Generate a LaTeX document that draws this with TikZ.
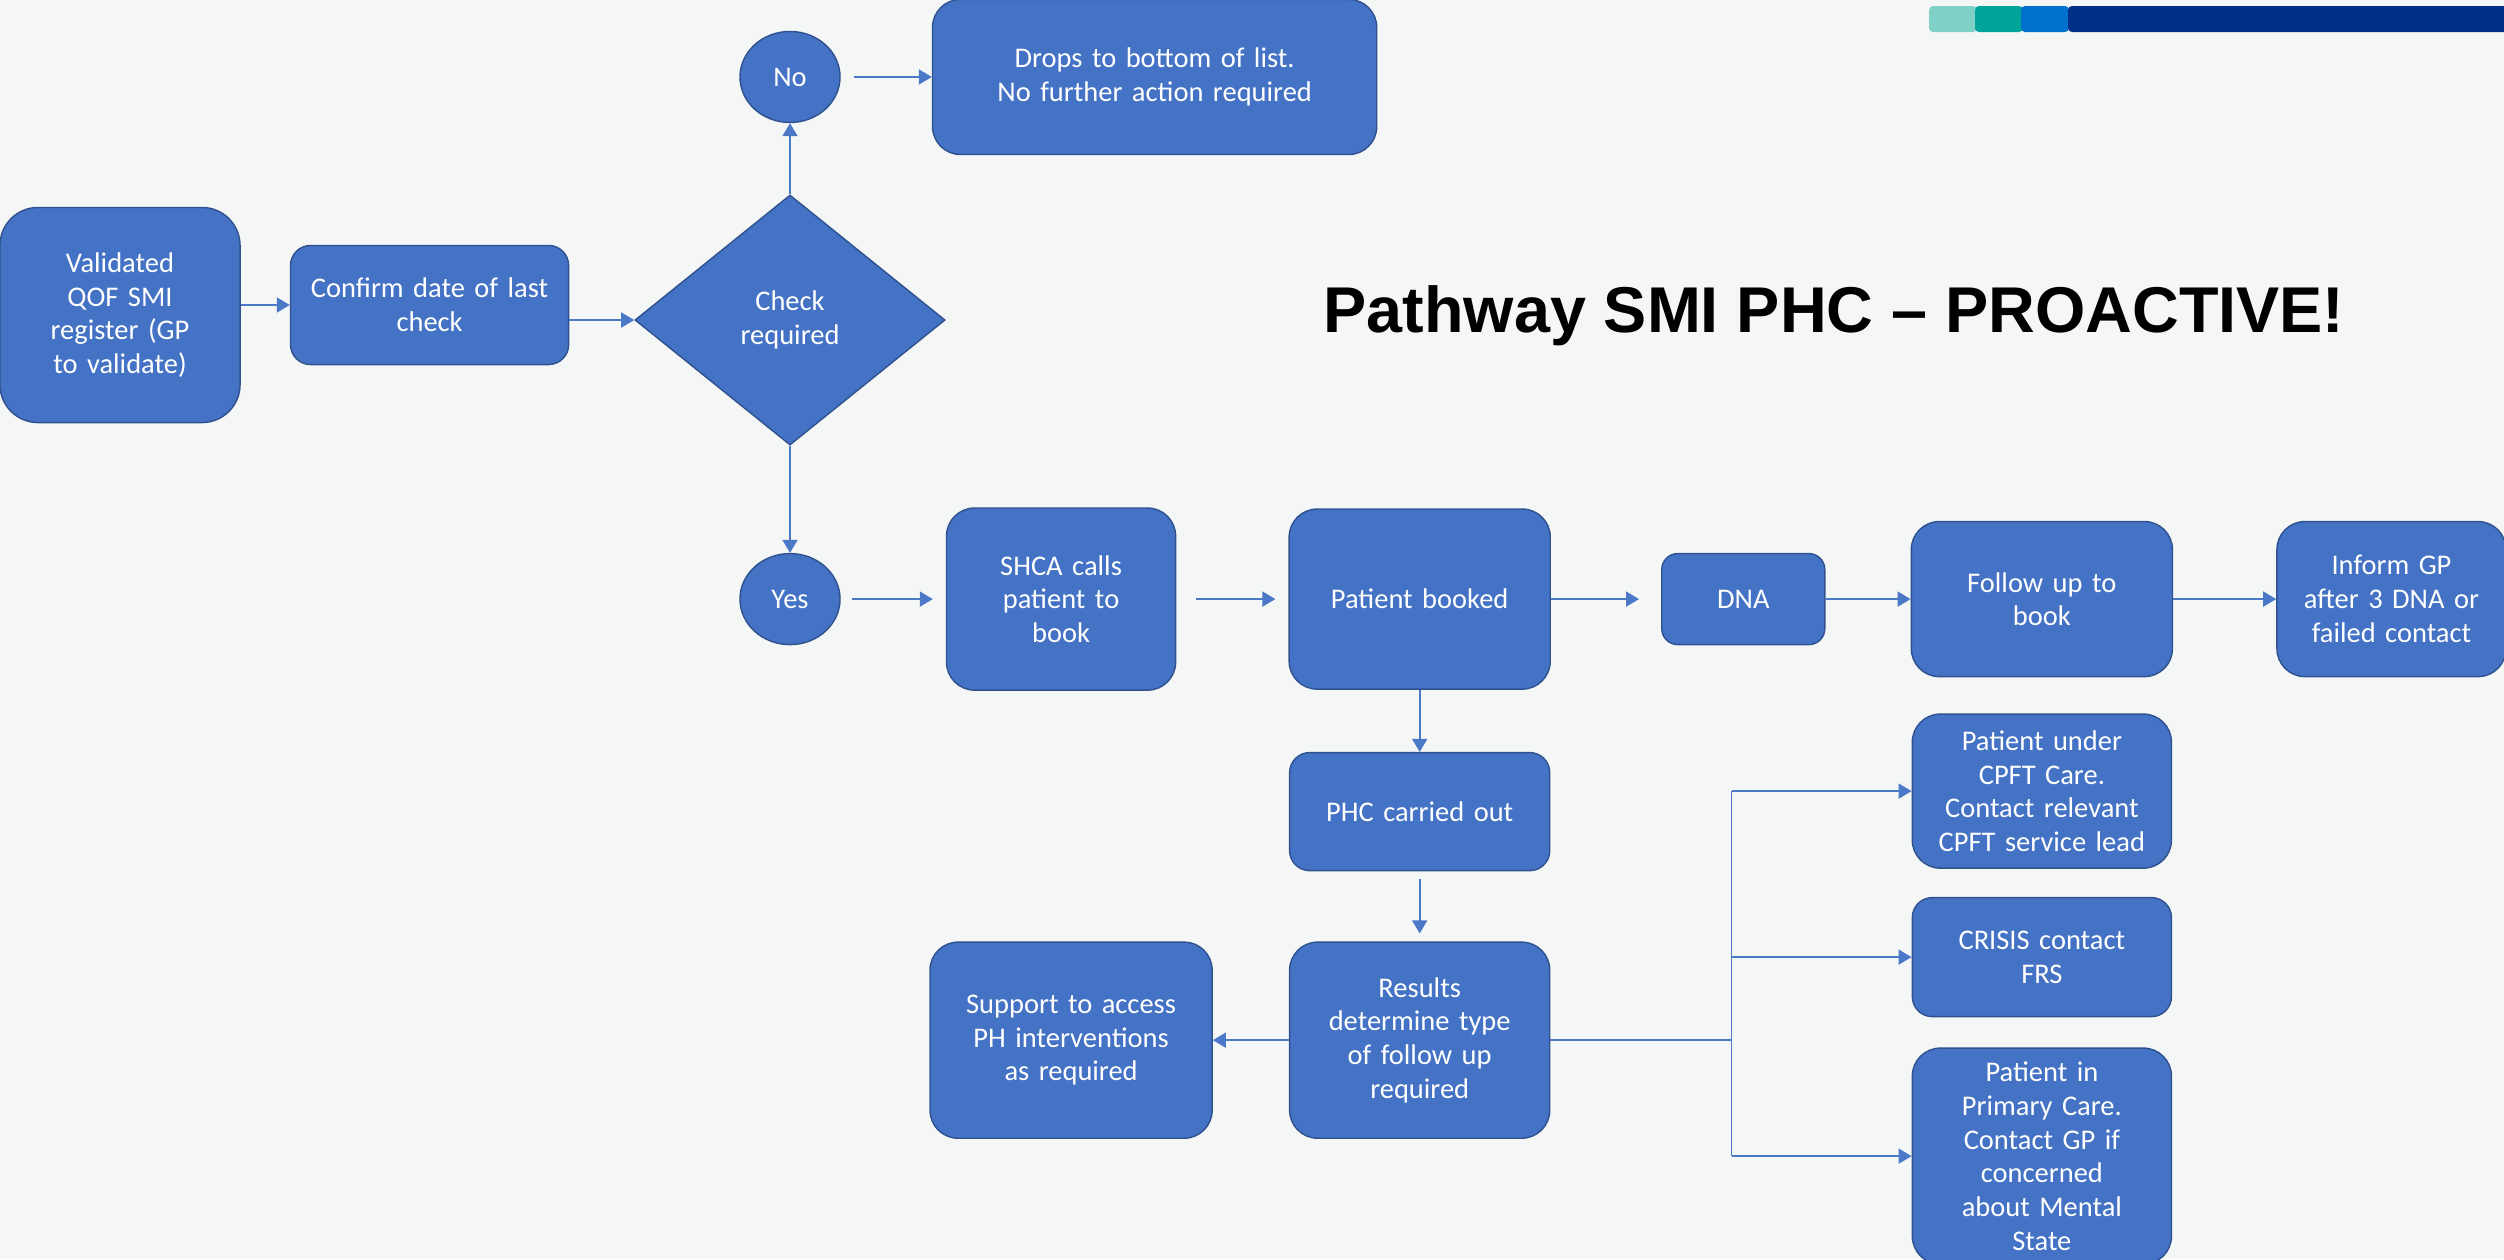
\documentclass[tikz,border=0pt]{standalone}
\usepackage{fontspec}
\setmainfont{Carlito}
\newfontfamily\titlefont{Liberation Sans}
\usetikzlibrary{shapes.geometric, arrows.meta, positioning, calc}
\definecolor{pagebg}{RGB}{245, 247, 247}
\definecolor{nhsblue}{RGB}{68, 114, 196}
\definecolor{nhsedge}{RGB}{47, 82, 143}
\definecolor{linkblue}{RGB}{76, 120, 200}
\definecolor{barlight}{RGB}{127, 208, 198}
\definecolor{barteal}{RGB}{0, 164, 153}
\definecolor{barmid}{RGB}{0, 114, 206}
\definecolor{barnavy}{RGB}{0, 48, 135}
\tikzset{
  sbox/.style={
    rectangle, rounded corners=0.28cm,
    draw=nhsedge, line width=0.4pt, fill=nhsblue,
    text=white, align=center, inner sep=0pt,
    font=\fontsize{8.1}{9.6}\selectfont
  },
  qbox/.style={
    diamond, draw=nhsedge, line width=0.4pt, fill=nhsblue,
    text=white, align=center, inner sep=0pt,
    minimum width=3.1cm, minimum height=2.5cm,
    font=\fontsize{8.1}{9.6}\selectfont
  },
  cbox/.style={
    ellipse, draw=nhsedge, line width=0.4pt, fill=nhsblue,
    text=white, inner sep=0pt,
    minimum width=1cm, minimum height=0.91cm,
    font=\fontsize{8.1}{9.6}\selectfont
  },
  arr/.style={-{Triangle[length=0.13cm, width=0.15cm]}, line width=0.5pt, color=linkblue},
  lnk/.style={line width=0.5pt, color=linkblue},
}

\begin{document}
\begin{tikzpicture}[x=0.01cm, y=-0.01cm]
    \useasboundingbox (0,0) rectangle (2504,1259);
    \fill[pagebg] (0,0) rectangle (2504,1259);

    % colour strip, top right
    \foreach \c/\xa/\xb in {barlight/1929/1977, barteal/1975/2023, barmid/2021/2069, barnavy/2068/2530}
      \fill[\c, rounded corners=0.04cm] (\xa,6) rectangle (\xb,32);

    \node[font=\titlefont\bfseries\fontsize{18.4}{22}\selectfont, anchor=base] (title) at (1834,332)
      {Pathway SMI PHC – PROACTIVE!};

    \node[sbox, text width=2.4cm, minimum height=2.15cm, rounded corners=0.38cm] (valid) at (120,315)
      {Validated\\QOF SMI\\register (GP\\to validate)};
    \node[sbox, text width=2.78cm, minimum height=1.19cm, rounded corners=0.2cm,
          right=0.49cm of valid, yshift=0.1cm] (conf) {Confirm date of last\\check};
    \node[qbox] (chk) at (790,320) {Check\\required};

    \node[cbox, above=0.71cm of chk]  (no)  {No};
    \node[sbox, text width=4.44cm, minimum height=1.55cm, right=0.91cm of no] (drops)
      {Drops to bottom of list.\\No further action required};

    \node[cbox, below=1.07cm of chk]  (yes) {Yes};
    \node[sbox, text width=2.29cm, minimum height=1.82cm, right=1.05cm of yes] (shca) {SHCA calls\\patient to\\book};
    \node[sbox, text width=2.61cm, minimum height=1.80cm, right=1.12cm of shca] (pb)   {Patient booked};
    \node[sbox, text width=1.63cm, minimum height=0.91cm, rounded corners=0.16cm,
          right=1.1cm of pb] (dna) {DNA};
    \node[sbox, text width=2.61cm, minimum height=1.55cm, right=0.85cm of dna] (fol)  {Follow up to\\book};
    \node[sbox, text width=2.29cm, minimum height=1.55cm, right=1.03cm of fol] (inf)  {Inform GP\\after 3 DNA or\\failed contact};

    \node[sbox, text width=2.60cm, minimum height=1.18cm, rounded corners=0.2cm,
          below=0.62cm of pb] (phc) {PHC carried out};
    \node[sbox, text width=2.60cm, minimum height=1.96cm, below=0.70cm of phc] (res)
      {Results\\determine type\\of follow up\\required};
    \node[sbox, text width=2.82cm, minimum height=1.96cm, left=0.76cm of res] (sup)
      {Support to access\\PH interventions\\as required};

    \node[sbox, text width=2.59cm, minimum height=1.54cm, below=0.36cm of fol] (cpft)
      {Patient under\\CPFT Care.\\Contact relevant\\CPFT service lead};
    \node[sbox, text width=2.59cm, minimum height=1.19cm, rounded corners=0.2cm,
          below=0.28cm of cpft] (cris) {CRISIS contact\\FRS};
    \node[sbox, text width=2.59cm, minimum height=2.16cm, below=0.30cm of cris] (prim)
      {Patient in\\Primary Care.\\Contact GP if\\concerned\\about Mental\\State};

    \coordinate (jn) at ($(res.east)+(1.81cm,0)$);

    \draw[arr] (valid.east |- conf) -- (conf);
    \draw[arr] (conf.east |- chk) -- (chk.west);
    \draw[arr] (chk.north) -- (no);
    \draw[arr] (chk.south) -- (yes);
    \draw[arr, shorten <=0.13cm] (no) -- (drops.west |- no);
    \draw[arr, shorten <=0.11cm, shorten >=0.13cm] (yes) -- (shca);
    \draw[arr, shorten <=0.2cm, shorten >=0.13cm] (shca) -- (pb);
    \draw[arr, shorten >=0.22cm] (pb) -- (dna);
    \draw[arr] (dna) -- (fol);
    \draw[arr] (fol) -- (inf);
    \draw[arr] (pb) -- (phc);
    \draw[arr, shorten <=0.08cm, shorten >=0.08cm] (phc) -- (res);
    \draw[arr] (res) -- (sup);

    \draw[lnk] (res.east) -- (jn);
    \draw[lnk] (jn |- cpft) -- (jn |- prim);
    \foreach \n in {cpft, cris, prim}
      \draw[arr] (jn |- \n) -- (\n);
  \end{tikzpicture}
\end{document}
